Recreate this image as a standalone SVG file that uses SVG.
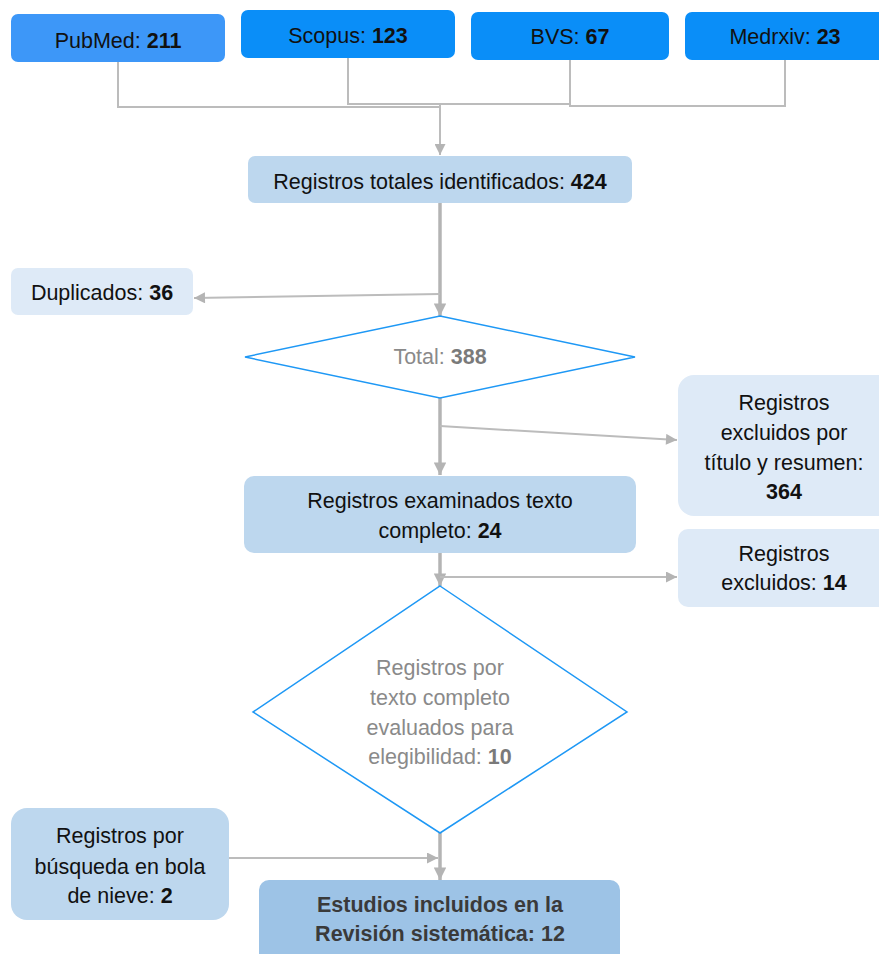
<svg xmlns="http://www.w3.org/2000/svg" width="879" height="954" viewBox="0 0 879 954">
<style>
text{font-family:"Liberation Sans",Arial,sans-serif;font-size:21.5px;fill:#111;text-anchor:middle}
.b{font-weight:bold}
.g{fill:#8a8a8a}
.gb{fill:#7a7a7a;font-weight:bold}
.top{fill:#0a8ef8}
.mid{fill:#bdd7ee}
.light{fill:#deeaf7}
.dark{fill:#9dc3e6}
.dia{fill:#fff;stroke:#1e98f5;stroke-width:1.5}
.ln{fill:none;stroke:#bcbcbc;stroke-width:2}
.thk{fill:none;stroke:#b4b4b4;stroke-width:3.5}
.dk{fill:#3a3a3a;font-weight:bold}
</style>
<defs>
<marker id="ah" viewBox="0 0 10 10" refX="10" refY="5" markerWidth="6" markerHeight="5.5" markerUnits="strokeWidth" orient="auto">
<path d="M0,0 L10,5 L0,10 z" fill="#b4b4b4"/>
</marker>
<marker id="ah2" viewBox="0 0 10 10" refX="10" refY="5" markerWidth="4" markerHeight="3.6" markerUnits="strokeWidth" orient="auto">
<path d="M0,0 L10,5 L0,10 z" fill="#b4b4b4"/>
</marker>
</defs>
<g id="connectors">
<path class="ln" d="M118,62 V107 H440"/>
<path class="ln" d="M348,58 V104 H570"/>
<path class="ln" d="M570,60 V107"/>
<path class="ln" d="M785,60 V106 H570"/>
<path class="ln" d="M440,104 V155" marker-end="url(#ah)"/>
<path class="thk" d="M440,203 V316" marker-end="url(#ah2)"/>
<path class="ln" d="M440,294 L194,298" marker-end="url(#ah)"/>
<path class="thk" d="M440,398 V475" marker-end="url(#ah2)"/>
<path class="ln" d="M440,426 L677,440" marker-end="url(#ah)"/>
<path class="thk" d="M440,553 V586" marker-end="url(#ah2)"/>
<path class="ln" d="M440,577 H677" marker-end="url(#ah)"/>
<path class="ln" d="M229,858 H438" marker-end="url(#ah)"/>
<path class="thk" d="M440,830 V880" marker-end="url(#ah2)"/>
</g>
<g id="pubmed"><rect x="11" y="14" width="214" height="48" rx="7" fill="#3d97f8"/><text x="118" y="48">PubMed: <tspan class="b">211</tspan></text></g>
<g id="scopus"><rect class="top" x="241" y="10" width="214" height="48" rx="7"/><text x="348" y="43">Scopus: <tspan class="b">123</tspan></text></g>
<g id="bvs"><rect class="top" x="471" y="12" width="198" height="48" rx="7"/><text x="570" y="44">BVS: <tspan class="b">67</tspan></text></g>
<g id="medrxiv"><rect class="top" x="685" y="12" width="200" height="48" rx="7"/><text x="785" y="44">Medrxiv: <tspan class="b">23</tspan></text></g>
<g id="totales"><rect class="mid" x="248" y="156" width="384" height="47" rx="7"/><text x="440" y="189">Registros totales identificados: <tspan class="b">424</tspan></text></g>
<g id="duplicados"><rect class="light" x="11" y="268" width="182" height="47" rx="7"/><text x="102" y="300">Duplicados: <tspan class="b">36</tspan></text></g>
<g id="total388"><polygon class="dia" points="440,316 635,357 440,398 245,357"/><text class="g" x="440" y="364">Total: <tspan class="gb">388</tspan></text></g>
<g id="excl364"><rect class="light" x="678" y="375" width="215" height="141" rx="16"/>
<text x="784" y="410">Registros</text><text x="784" y="440">excluidos por</text><text x="784" y="470">título y resumen:</text><text class="b" x="784" y="499">364</text></g>
<g id="examinados"><rect class="mid" x="244" y="476" width="392" height="77" rx="10"/><text x="440" y="508">Registros examinados texto</text><text x="440" y="538">completo: <tspan class="b">24</tspan></text></g>
<g id="excl14"><rect class="light" x="678" y="529" width="215" height="78" rx="10"/><text x="784" y="561">Registros</text><text x="784" y="590">excluidos: <tspan class="b">14</tspan></text></g>
<g id="elegibilidad"><polygon class="dia" points="440,586 627,712 440,833 253,712"/>
<text class="g" x="440" y="675">Registros por</text><text class="g" x="440" y="705">texto completo</text><text class="g" x="440" y="735">evaluados para</text><text class="g" x="440" y="764">elegibilidad: <tspan class="gb">10</tspan></text></g>
<g id="bola"><rect class="mid" x="11" y="808" width="218" height="112" rx="16"/><text x="120" y="843">Registros por</text><text x="120" y="874">búsqueda en bola</text><text x="120" y="903">de nieve: <tspan class="b">2</tspan></text></g>
<g id="incluidos"><rect class="dark" x="259" y="880" width="361" height="84" rx="10"/><text class="dk" x="440" y="912">Estudios incluidos en la</text><text class="dk" x="440" y="941">Revisión sistemática: 12</text></g>
</svg>
